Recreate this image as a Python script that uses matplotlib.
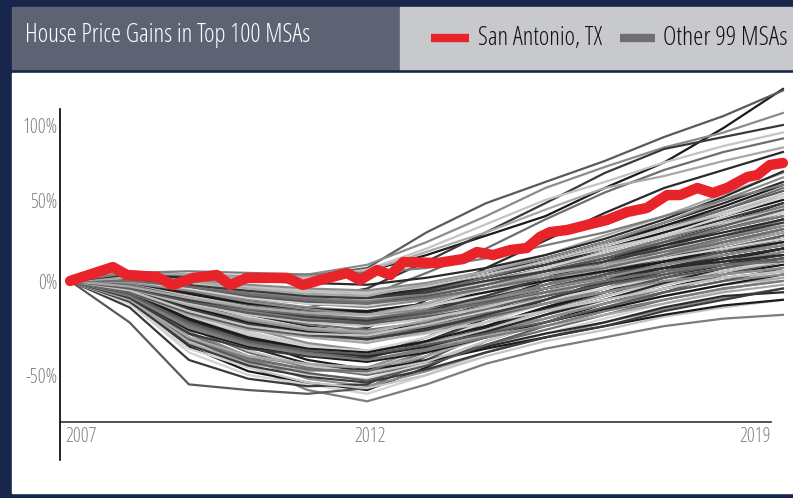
import warnings
import numpy as np
import matplotlib.pyplot as plt
from matplotlib import font_manager as fm
from matplotlib.font_manager import FontProperties
from matplotlib.patches import Rectangle
from matplotlib.lines import Line2D
from matplotlib.scale import FuncScale

# cumulative house price change since 2007, percent
years = list(range(2007, 2020))

other_msas = [
    # strongest gainers
    [0, 3, 2, 0, 0, 6, 16, 28, 40, 58, 75, 98, 124],
    [0, 5, 3, 2, 3, 8, 30, 48, 62, 76, 92, 106, 123],
    [0, 6, 4, 3, 4, 10, 24, 40, 58, 72, 85, 95, 108],
    [0, 3, -4, -8, -10, -4, 12, 30, 48, 68, 84, 92, 100],
    [0, 4, 2, 1, 2, 7, 20, 35, 50, 62, 75, 86, 95],
    [0, 2, -6, -12, -14, -8, 5, 20, 38, 55, 70, 82, 91],
    [0, 5, 4, 2, 3, 6, 18, 30, 44, 58, 66, 76, 85],
    [0, 1, -12, -22, -28, -25, -10, 8, 25, 42, 58, 70, 82],
    # deepest busts
    [0, -8, -30, -45, -58, -64, -55, -44, -36, -30, -24, -20, -18],
    [0, -12, -38, -50, -55, -60, -50, -38, -28, -20, -12, -5, 2],
    [0, -10, -35, -48, -54, -58, -46, -32, -22, -12, -4, 4, 10],
    [0, -22, -55, -58, -60, -57, -42, -28, -18, -10, -2, 6, 12],
    [0, -6, -28, -42, -52, -56, -48, -38, -30, -22, -15, -9, -4],
    [0, -14, -42, -52, -56, -55, -40, -25, -15, -6, 2, 10, 18],
    [0, -9, -32, -46, -54, -57, -50, -40, -32, -26, -19, -14, -10],
    # trough -45 to -55
    [0, -6, -25, -38, -46, -50, -44, -34, -26, -18, -10, -4, 0],
    [0, -10, -33, -44, -48, -47, -38, -26, -16, -8, 0, 8, 14],
    [0, -5, -22, -35, -44, -48, -42, -35, -28, -22, -14, -8, -6],
    [0, -8, -30, -42, -47, -49, -40, -28, -18, -6, 6, 16, 24],
    [0, -12, -36, -46, -50, -52, -44, -32, -22, -14, -6, 0, 6],
    [0, -4, -20, -32, -42, -47, -43, -36, -30, -24, -18, -13, -10],
    [0, -9, -31, -43, -49, -53, -45, -34, -24, -16, -6, 4, 12],
    [0, -7, -27, -40, -45, -46, -36, -22, -10, 0, 10, 22, 32],
    [0, -11, -34, -45, -51, -54, -47, -38, -30, -24, -16, -10, -4],
    [0, -6, -24, -37, -45, -49, -43, -32, -20, -10, -2, 4, 8],
    [0, -8, -28, -41, -47, -48, -38, -24, -14, -4, 6, 14, 20],
    [0, -10, -30, -40, -44, -46, -40, -30, -22, -14, -8, -2, 2],
    # trough -35 to -45
    [0, -5, -20, -30, -37, -40, -34, -25, -16, -8, 2, 10, 16],
    [0, -7, -24, -33, -39, -42, -36, -28, -20, -12, -4, 2, 6],
    [0, -4, -16, -27, -34, -38, -32, -22, -12, -2, 8, 18, 26],
    [0, -8, -26, -35, -40, -43, -38, -30, -22, -15, -8, -2, 4],
    [0, -6, -22, -32, -38, -41, -33, -20, -8, 4, 16, 28, 38],
    [0, -3, -14, -25, -33, -37, -33, -26, -20, -12, -6, 0, 4],
    [0, -9, -28, -36, -40, -41, -32, -20, -10, 0, 10, 18, 24],
    [0, -5, -19, -29, -36, -39, -34, -26, -16, -8, 0, 6, 12],
    [0, -7, -23, -33, -38, -40, -30, -16, -4, 8, 20, 32, 42],
    [0, -4, -17, -28, -35, -38, -35, -29, -24, -18, -12, -6, -2],
    [0, -6, -21, -31, -37, -40, -35, -27, -18, -10, -1, 8, 14],
    [0, -8, -25, -34, -39, -42, -37, -30, -24, -16, -10, -4, 0],
    [0, -5, -18, -28, -35, -37, -30, -19, -8, 2, 12, 22, 30],
    [0, -6, -20, -30, -36, -38, -32, -24, -14, -6, 4, 12, 20],
    [0, -7, -22, -32, -37, -39, -34, -28, -22, -14, -6, 0, 8],
    # trough -25 to -35
    [0, -4, -14, -22, -28, -31, -27, -20, -12, -4, 4, 12, 18],
    [0, -3, -12, -20, -26, -29, -24, -16, -6, 4, 14, 24, 32],
    [0, -5, -16, -24, -29, -32, -28, -22, -16, -10, -4, 2, 6],
    [0, -4, -13, -21, -27, -30, -25, -17, -8, 2, 12, 20, 28],
    [0, -6, -18, -26, -30, -33, -27, -18, -8, 2, 12, 22, 30],
    [0, -2, -10, -18, -24, -28, -25, -18, -10, -2, 6, 14, 20],
    [0, -5, -15, -23, -28, -30, -24, -14, -2, 10, 22, 34, 44],
    [0, -3, -11, -19, -25, -27, -23, -16, -10, -4, 2, 8, 12],
    [0, -4, -14, -22, -27, -29, -22, -12, 0, 12, 24, 36, 48],
    [0, -6, -17, -25, -29, -31, -26, -19, -12, -6, 2, 8, 14],
    [0, -3, -12, -21, -26, -28, -24, -18, -12, -6, 0, 4, 8],
    [0, -4, -15, -23, -28, -31, -26, -18, -10, -1, 8, 16, 22],
    [0, -5, -16, -24, -28, -29, -23, -15, -6, 4, 14, 26, 36],
    [0, -2, -9, -17, -23, -26, -22, -15, -6, 2, 10, 18, 26],
    [0, -4, -13, -20, -25, -27, -21, -13, -4, 6, 16, 26, 34],
    # trough -15 to -25
    [0, -2, -8, -14, -18, -20, -16, -10, -4, 2, 8, 14, 20],
    [0, -3, -10, -16, -20, -22, -18, -12, -6, 0, 6, 12, 16],
    [0, -1, -6, -12, -16, -18, -14, -6, 2, 10, 18, 28, 36],
    [0, -2, -9, -15, -19, -21, -17, -11, -4, 4, 12, 20, 26],
    [0, -3, -11, -17, -21, -23, -19, -14, -8, -2, 4, 10, 14],
    [0, -1, -5, -10, -14, -16, -12, -4, 6, 16, 26, 36, 46],
    [0, -2, -7, -13, -17, -19, -15, -9, -2, 6, 14, 22, 30],
    [0, -4, -12, -18, -22, -24, -20, -14, -6, 2, 10, 18, 24],
    [0, -2, -8, -13, -16, -17, -13, -6, 2, 10, 18, 26, 34],
    [0, -3, -9, -15, -19, -20, -15, -8, 0, 8, 16, 24, 32],
    [0, -1, -6, -11, -15, -17, -14, -10, -4, 2, 8, 12, 16],
    [0, -2, -10, -16, -20, -22, -17, -10, -2, 6, 16, 26, 38],
    [0, -3, -8, -14, -18, -19, -14, -6, 4, 14, 24, 34, 42],
    [0, -2, -7, -12, -15, -16, -12, -6, 0, 6, 12, 18, 24],
    [0, -4, -11, -17, -21, -22, -17, -11, -4, 4, 10, 18, 28],
    [0, -1, -5, -11, -15, -18, -15, -10, -4, 2, 10, 16, 22],
    [0, -3, -10, -15, -19, -21, -16, -8, 2, 12, 22, 32, 40],
    [0, -2, -8, -14, -17, -18, -13, -4, 6, 16, 24, 34, 44],
    [0, -2, -9, -15, -18, -20, -16, -12, -6, 0, 6, 10, 12],
    [0, -3, -9, -14, -17, -18, -12, -2, 8, 18, 30, 42, 52],
    # trough -5 to -15
    [0, 1, -3, -7, -10, -12, -8, -2, 6, 14, 22, 30, 38],
    [0, 2, -2, -6, -9, -10, -6, 0, 8, 16, 26, 36, 46],
    [0, 0, -4, -8, -11, -13, -9, -4, 2, 8, 14, 20, 26],
    [0, 1, -2, -5, -7, -8, -4, 2, 10, 20, 30, 40, 50],
    [0, 2, -1, -4, -6, -7, -2, 6, 14, 24, 34, 44, 56],
    [0, 0, -5, -9, -12, -14, -10, -4, 4, 12, 20, 28, 34],
    [0, 1, -3, -6, -8, -9, -5, 2, 10, 18, 28, 38, 48],
    [0, 2, 0, -3, -5, -6, -2, 4, 12, 20, 28, 36, 44],
    [0, 1, -4, -8, -10, -11, -6, 2, 12, 22, 32, 44, 58],
    [0, 0, -3, -7, -9, -10, -7, -2, 4, 10, 16, 22, 30],
    [0, 2, -1, -5, -8, -9, -4, 4, 14, 24, 36, 48, 62],
    [0, 1, -2, -6, -9, -11, -7, 0, 8, 16, 24, 32, 40],
    [0, 0, -4, -9, -12, -13, -8, -1, 8, 18, 28, 40, 52],
    [0, 2, -2, -5, -7, -8, -3, 4, 12, 22, 34, 46, 60],
    [0, 1, -3, -8, -11, -12, -8, -2, 6, 14, 24, 34, 44],
    [0, 3, 1, -2, -4, -5, -1, 6, 14, 24, 36, 50, 65],
    [0, 1, -2, -5, -8, -9, -6, 0, 6, 12, 20, 28, 36],
    [0, 2, -1, -4, -6, -7, -3, 4, 12, 22, 32, 42, 54],
    [0, 0, -3, -7, -10, -12, -9, -4, 2, 8, 16, 24, 32],
    [0, 2, 0, -4, -7, -8, -2, 6, 16, 28, 40, 54, 68],
    # barely dipped
    [0, 4, 2, 0, -1, -2, 2, 8, 16, 26, 38, 52, 69],
    [0, 5, 6, 5, 4, 5, 8, 14, 22, 30, 40, 50, 60],
]

sa_years = [2007.0, 2007.72, 2007.96, 2008.46, 2008.73, 2009.07, 2009.47, 2009.69,
            2009.98, 2010.65, 2010.92, 2011.21, 2011.66, 2011.88, 2012.17, 2012.39,
            2012.61, 2013.18, 2013.62, 2013.85, 2014.12, 2014.41, 2014.69, 2014.91,
            2015.08, 2015.37, 2015.70, 2016.04, 2016.38, 2016.71, 2017.05, 2017.27,
            2017.56, 2017.82, 2018.06, 2018.40, 2018.57, 2018.78, 2019.0]
sa_values = [0, 8.6, 3.7, 2.5, -2.1, 1.9, 3.7, -2.1, 1.9, 1.9, -2.1, 0.6, 4.9, 0.6,
             6.8, 3.7, 11.7, 11.1, 13.6, 17.9, 16.0, 19.1, 20.4, 27.2, 30.2, 31.5,
             34.6, 37.7, 42.6, 45.1, 53.3, 53.3, 58.0, 54.7, 58.0, 65.3, 66.7, 73.3, 74.7]

ytick_values = [-50, 0, 50, 100]
ytick_labels = ["-50%", "0%", "50%", "100%"]
xtick_years = [2007, 2012, 2019]

NAVY = "#17264a"
RED = "#e8232a"
TICK_GRAY = "#808080"
shades = ["#1a1a1a", "#5a5a5a", "#8c8c8c", "#3a3a3a", "#c4c4c4",
          "#6e6e6e", "#a8a8a8", "#2a2a2a", "#7d7d7d", "#d2d2d2"]

# the original's value axis is not evenly spaced; map it piecewise
knot_v = np.array([-100, -50, 0, 50, 100, 150])
knot_p = np.array([469, 375, 281, 200, 125, 50])


def fwd(v):
    return -np.interp(v, knot_v, knot_p)


def inv(u):
    return np.interp(-np.asarray(u), knot_p[::-1], knot_v[::-1])


W, H = 793, 498
fig = plt.figure(figsize=(W / 100, H / 100), dpi=100)
fig.patch.set_facecolor(NAVY)
renderer = fig.canvas.get_renderer()

# look for the narrowest regular sans face that is installed (light faces lose a little)
families = ("DejaVu Sans", "Liberation Sans", "Noto Sans", "Roboto", "Open Sans", "Lato", "Inter")
font_path = fm.findfont("DejaVu Sans")
best_score = None
with warnings.catch_warnings():
    warnings.simplefilter("ignore")
    for f in fm.fontManager.ttflist:
        if not f.name.startswith(families):
            continue
        if any(k in f.name for k in ("Mono", "CJK", "Display", "Math")):
            continue
        if f.style != "normal":
            continue
        wgt = f.weight if isinstance(f.weight, int) else 400
        if wgt < 300 or wgt > 500:
            continue
        try:
            fp = FontProperties(fname=f.fname, size=10)
            w, h, d = renderer.get_text_width_height_descent("House Price 2019", fp, ismath=False)
            wc, hc, dc = renderer.get_text_width_height_descent("H", fp, ismath=False)
        except Exception:
            continue
        if w <= 0 or hc <= 0 or w < 30:
            continue
        score = w / hc * (1.1 if wgt < 400 else 1.0)
        if best_score is None or score < best_score:
            best_score, font_path = score, f.fname


def fitted(s, width_px, cap_px):
    fp = FontProperties(fname=font_path, size=10)
    w, h, d = renderer.get_text_width_height_descent(s, fp, ismath=False)
    wc, hc, dc = renderer.get_text_width_height_descent("H", fp, ismath=False)
    return FontProperties(fname=font_path, size=min(10 * width_px / w, 10 * cap_px / hc))


# header boxes and white panel
fig.add_artist(Rectangle((12 / W, 1 - 69 / H), 388 / W, 62 / H,
                         transform=fig.transFigure, color="#5d6373", zorder=0))
fig.add_artist(Rectangle((400 / W, 1 - 69 / H), 393 / W, 62 / H,
                         transform=fig.transFigure, color="#c8c9cd", zorder=0))
fig.add_artist(Rectangle((12 / W, 5 / H), 781 / W, 420 / H,
                         transform=fig.transFigure, color="white", zorder=0))

fig.text(25 / W, 1 - 36 / H, "House Price Gains in Top 100 MSAs", color="white",
         fontproperties=fitted("House Price Gains in Top 100 MSAs", 287, 21),
         va="center", ha="left")

# legend
fig.add_artist(Line2D([431 / W, 469 / W], [1 - 38 / H, 1 - 38 / H], color=RED,
                      lw=6, transform=fig.transFigure, solid_capstyle="butt"))
fig.text(478 / W, 1 - 38 / H, "San Antonio, TX", color="#111111",
         fontproperties=fitted("San Antonio, TX", 125, 21), va="center", ha="left")
fig.add_artist(Line2D([620 / W, 655 / W], [1 - 38 / H, 1 - 38 / H], color="#6f6f6f",
                      lw=6, transform=fig.transFigure, solid_capstyle="butt"))
fig.text(663 / W, 1 - 38 / H, "Other 99 MSAs", color="#111111",
         fontproperties=fitted("Other 99 MSAs", 125, 21), va="center", ha="left")

# plot area
ax = fig.add_axes([60 / W, 1 - 460 / H, 730 / W, 380 / H])
ax.set_facecolor("none")
ax.set_yscale(FuncScale(ax.yaxis, (fwd, inv)))
x0, x1 = 2006.83, 2019.12
ax.set_xlim(x0, x1)
y_lo, y_hi = inv(-460), inv(-80)
ax.set_ylim(y_lo, y_hi)

for i, row in enumerate(other_msas):
    ax.plot(years, row, color=shades[i % len(shades)], lw=1.6, zorder=2)

ax.plot(sa_years, sa_values, color=RED, lw=7.5, zorder=5,
        solid_capstyle="round", solid_joinstyle="round")

for side in ["top", "right", "bottom"]:
    ax.spines[side].set_visible(False)
ax.spines["left"].set_color("black")
ax.spines["left"].set_linewidth(1.2)
ax.spines["left"].set_bounds(y_lo, inv(-109))

axis_end = 2018.8
baseline = inv(-422)
ax.axhline(baseline, xmin=0, xmax=(axis_end - x0) / (x1 - x0), color="#333333", lw=1.2)

tick_fp = fitted("100%", 35, 17)
ax.set_yticks(ytick_values)
ax.set_yticklabels(ytick_labels, fontproperties=tick_fp, color=TICK_GRAY)
ax.tick_params(axis="y", length=0, pad=2)
ax.set_xticks([])
ax.yaxis.set_minor_locator(plt.NullLocator())

lab_y = inv(-437)
ax.text(xtick_years[0] - 0.08, lab_y, str(xtick_years[0]), ha="left", va="center",
        fontproperties=tick_fp, color=TICK_GRAY)
ax.text(xtick_years[1] + 0.05, lab_y, str(xtick_years[1]), ha="center", va="center",
        fontproperties=tick_fp, color=TICK_GRAY)
ax.text(axis_end, lab_y, str(xtick_years[2]), ha="right", va="center",
        fontproperties=tick_fp, color=TICK_GRAY)

fig.savefig("out.png", dpi=100, facecolor=NAVY)
